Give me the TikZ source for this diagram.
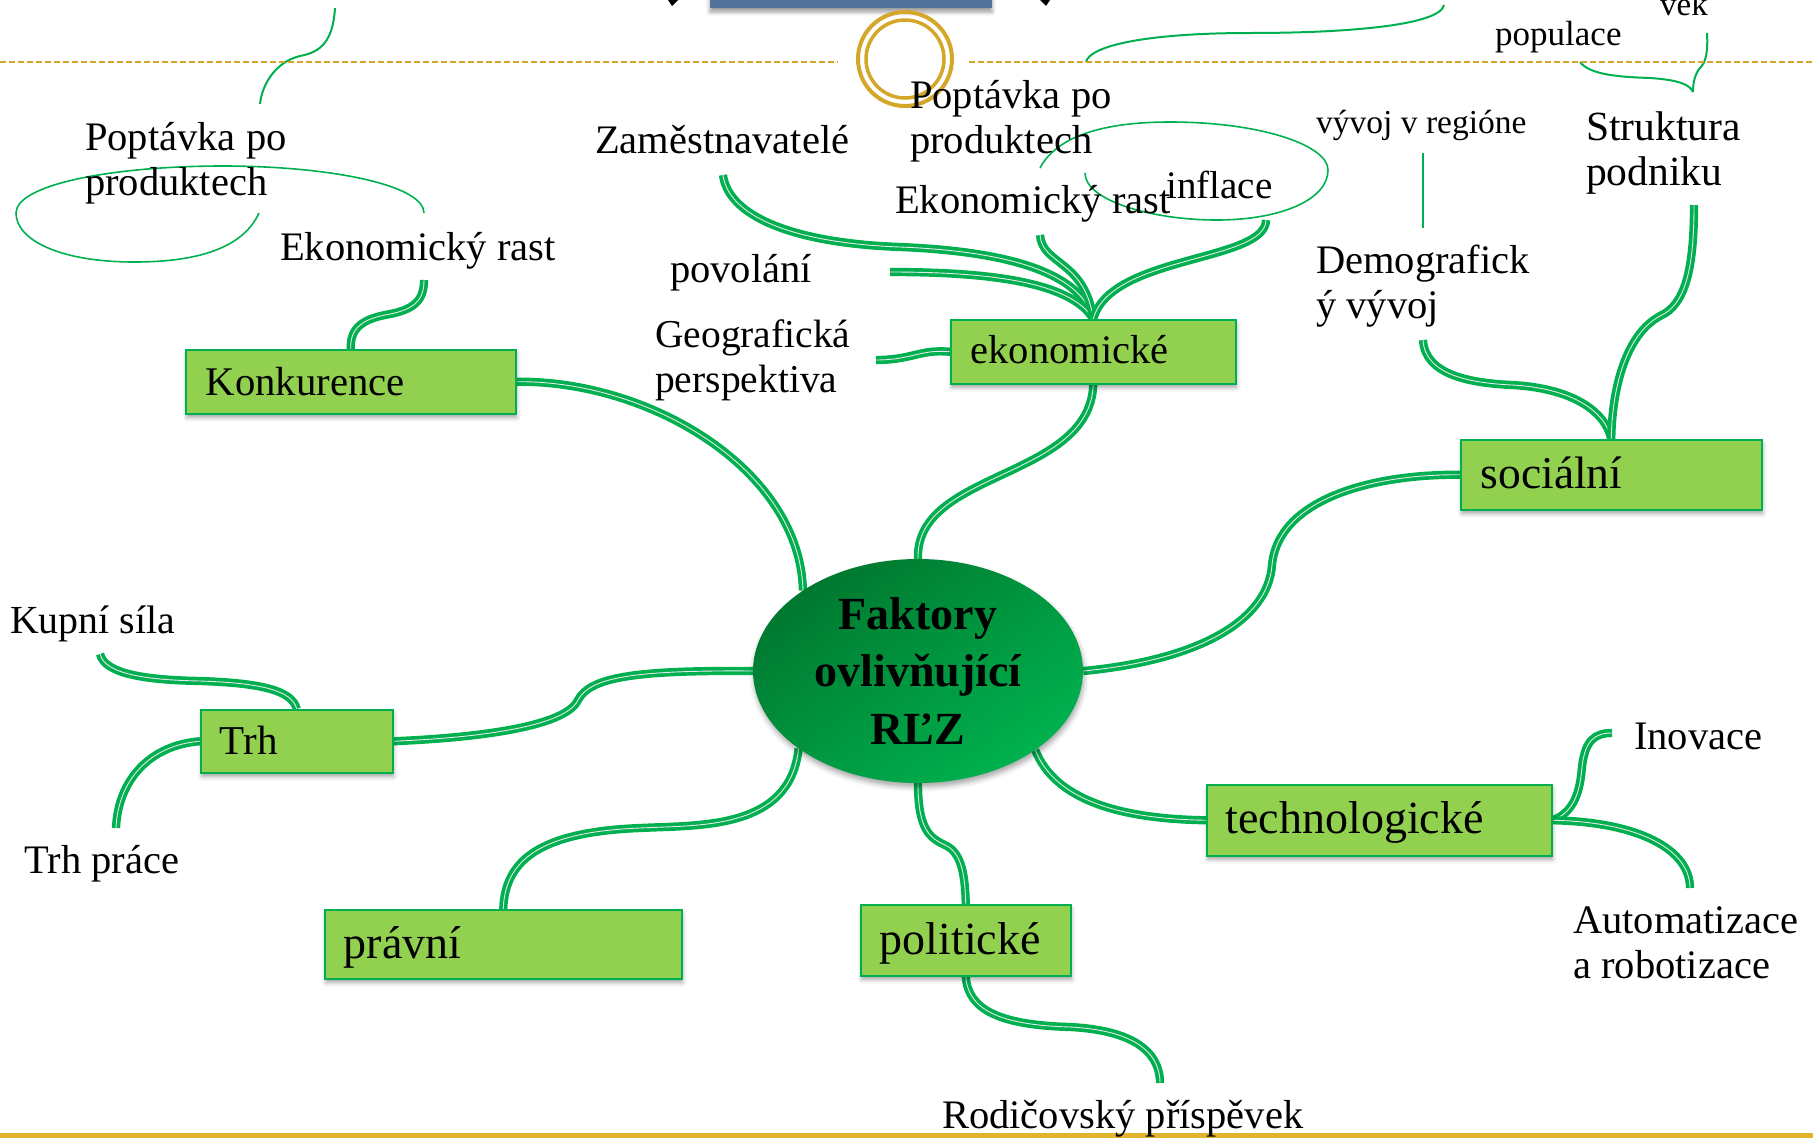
\documentclass[tikz,border=0pt]{standalone}
\usepackage{fontspec}
\setmainfont{Liberation Serif}
\usetikzlibrary{shapes.geometric,shadows.blur,backgrounds}

\definecolor{brgreen}{HTML}{00B050}
\definecolor{boxfill}{HTML}{92D050}
\definecolor{hubdark}{HTML}{00782F}
\definecolor{hublight}{HTML}{00B24F}
\definecolor{gold}{HTML}{D4A62A}
\definecolor{goldline}{HTML}{E0B52B}
\definecolor{slate}{HTML}{54739C}
\definecolor{stripe}{HTML}{E6E6E6}

\newcommand\fs[1]{\fontsize{#1}{1.2\dimexpr #1pt\relax}\selectfont}

\begin{document}
\begin{tikzpicture}[x=1pt,y=-1pt,
  lbl/.style={anchor=base west, inner sep=0pt, font=\fs{40.5}},
  box/.style={draw=brgreen, fill=boxfill, line width=1.5pt, anchor=north west,
    inner ysep=0pt, inner xsep=20pt, align=left,
    blur shadow={shadow xshift=1pt, shadow yshift=-4pt, shadow blur radius=4pt, shadow opacity=35}},
  branch/.style={draw=brgreen, line width=3.7pt, double=stripe, double distance=0.9pt},
  thin/.style={draw=brgreen, line width=2pt},
]
\useasboundingbox (0,0) rectangle (1813,1138);
\clip (0,0) rectangle (1813,1138);

% slide decoration: title bar, ring, dashed and solid rules
\fill[slate, blur shadow={shadow xshift=0pt, shadow yshift=-4pt, shadow blur radius=4pt, shadow opacity=40}] (710,-10) rectangle (992,8);
\fill (668,0) -- (678,0) -- (672,6) -- cycle;
\fill (1040,0) -- (1050,0) -- (1046,6) -- cycle;
\draw[gold, line width=2.5pt, dash pattern=on 6pt off 3pt] (0,62) -- (838,62);
\draw[gold, line width=2.5pt, dash pattern=on 6pt off 3pt] (969,62) -- (1813,62);
\draw[gold, line width=4pt] (905,59) circle[radius=47];
\draw[gold, line width=3.5pt] (905,59) circle[radius=39];
\draw[goldline, line width=5pt] (0,1135) -- (1813,1135);

% central hub
\node[ellipse, minimum width=330pt, minimum height=224pt, inner sep=0pt,
  top color=hubdark, bottom color=hublight, shading angle=35,
  align=center, font=\bfseries\fontsize{46}{57.5}\selectfont,
  blur shadow={shadow xshift=1pt, shadow yshift=-4pt, shadow blur radius=5pt, shadow opacity=35}]
  (hub) at (918,671) {Faktory\\ovlivňující\\RĽZ};

% factor boxes
\node[box, text width=290pt, text height=46pt, text depth=18pt, font=\fs{40.7}] (konk) at (185,349) {Konkurence};
\node[box, text width=245pt, text height=44pt, text depth=20pt, font=\fs{40.5}] (ekon) at (950,319) {ekonomické};
\node[box, text width=261pt, text height=49pt, text depth=21pt, font=\fs{45.5}] (soc) at (1460,439) {sociální};
\node[box, text width=154pt, text height=45pt, text depth=18pt, inner xsep=19pt, font=\fs{41}] (trh) at (200,709) {Trh};
\node[box, text width=319pt, text height=49pt, text depth=20pt, inner xsep=19pt, font=\fs{46}] (prav) at (324,909) {právní};
\node[box, text width=172pt, text height=50pt, text depth=21pt, inner xsep=19pt, font=\fs{46}] (polit) at (860,904) {politické};
\node[box, text width=307pt, text height=49pt, text depth=22pt, inner xsep=19pt, font=\fs{46}] (tech) at (1206,784) {technologické};

% labels
\node[lbl] (pop1a) at (85,150) {Poptávka po};
\node[lbl] (pop1b) at (85,195) {produktech};
\node[lbl] (rast1) at (280,260) {Ekonomický rast};
\node[lbl] (zam) at (595,153) {Zaměstnavatelé};
\node[lbl] (pop2a) at (910,108) {Poptávka po};
\node[lbl] (pop2b) at (910,153) {produktech};
\node[lbl] (rast2) at (895,213) {Ekonomický rast};
\node[lbl, font=\fs{39}] (infl) at (1166,198) {inflace};
\node[lbl] (povol) at (670,282) {povolání};
\node[lbl, font=\fs{39.5}] (geo1) at (655,347) {Geografická};
\node[lbl, font=\fs{39.5}] (geo2) at (655,392) {perspektiva};
\node[lbl, font=\fs{33.5}] (vyvoj) at (1316,133) {vývoj v regióne};
\node[lbl] (demo1) at (1316,273) {Demografick};
\node[lbl] (demo2) at (1316,318) {ý vývoj};
\node[lbl, font=\fs{41.5}] (strk1) at (1586,140) {Struktura};
\node[lbl, font=\fs{41.5}] (strk2) at (1586,185) {podniku};
\node[lbl, font=\fs{35}] (popul) at (1495,45) {populace};
\node[lbl, font=\fs{33}] (vek) at (1660,15) {věk};
\node[lbl, font=\fs{39.8}] (kupni) at (10,633) {Kupní síla};
\node[lbl] (trhpr) at (24,873) {Trh práce};
\node[lbl] (inov) at (1634,749) {Inovace};
\node[lbl] (auto1) at (1573,933) {Automatizace};
\node[lbl] (auto2) at (1573,978) {a robotizace};
\node[lbl] (rodic) at (942,1128) {Rodičovský příspěvek};

% free ends of the branches next to their labels
\coordinate (e-rast1) at (424,280);
\coordinate (e-zam) at (723,175);
\coordinate (e-povol) at (890,272);
\coordinate (e-rast2) at (1040,235);
\coordinate (e-infl) at (1266,220);
\coordinate (e-geo) at (876,360);
\coordinate (e-demo) at (1423,340);
\coordinate (e-strk) at (1694,205);
\coordinate (e-kupni) at (100,654);
\coordinate (e-trhpr) at (116,828);
\coordinate (e-inov) at (1612,733);
\coordinate (e-auto) at (1690,888);
\coordinate (e-rodic) at (1160,1083);

% ends of the thin connectors
\coordinate (t1a) at (335,8);    \coordinate (t1b) at (260,104);
\coordinate (t2a) at (1444,5);   \coordinate (t2b) at (1086,62);
\coordinate (t3a) at (1580,62);  \coordinate (t3b) at (1707,33);
\coordinate (t3c) at (1693,92);
\coordinate (t4a) at (1423,153); \coordinate (t4b) at (1423,228);
\coordinate (l1a) at (259,213);  \coordinate (l1b) at (424,213);
\coordinate (l2a) at (1040,168); \coordinate (l2b) at (1085,173);

\begin{scope}[on background layer]
% main branches from the hub
\draw[branch] (hub.145) .. controls (800,470) and (650,380) .. (konk.east);
\draw[branch] (hub.north) .. controls (915,470) and (1090,480) .. (ekon.south);
\draw[branch] (hub.east) .. controls (1200,660) and (1268,620) .. (1272,565)
  .. controls (1278,500) and (1370,474) .. (soc.west);
\draw[branch] (hub.-34) .. controls (1055,800) and (1120,819) .. (tech.west);
\draw[branch] (hub.south) .. controls (918,830) and (930,838) .. (945,845)
  .. controls (960,852) and (965,870) .. (polit.north);
\draw[branch] (hub.213) .. controls (790,830) and (700,825) .. (640,828)
  .. controls (540,832) and (505,860) .. (prav.north);
\draw[branch] (hub.west) .. controls (630,670) and (590,678) .. (578,700)
  .. controls (565,728) and (470,738) .. (trh.east);

% sub-branches
\draw[branch] (konk.north) .. controls (350,330) and (360,320) .. (385,315)
  .. controls (415,310) and (424,300) .. (e-rast1);
\draw[branch] (e-zam) .. controls (728,215) and (790,243) .. (900,247)
  .. controls (1000,251) and (1080,270) .. (ekon.north);
\draw[branch] (e-povol) .. controls (980,272) and (1070,280) .. (ekon.north);
\draw[branch] (e-rast2) .. controls (1042,265) and (1085,260) .. (ekon.north);
\draw[branch] (e-infl) .. controls (1266,262) and (1110,255) .. (ekon.north);
\draw[branch] (ekon.west) .. controls (920,349) and (912,360) .. (e-geo);
\draw[branch] (soc.north) .. controls (1605,410) and (1570,388) .. (1512,385)
  .. controls (1470,383) and (1425,375) .. (e-demo);
\draw[branch] (soc.north) .. controls (1612,390) and (1625,335) .. (1660,316)
  .. controls (1685,305) and (1694,270) .. (e-strk);
\draw[branch] (trh.north) .. controls (292,690) and (260,683) .. (200,681)
  .. controls (150,680) and (105,675) .. (e-kupni);
\draw[branch] (trh.west) .. controls (150,745) and (118,780) .. (e-trhpr);
\draw[branch] (tech.east) .. controls (1575,812) and (1580,790) .. (1582,767)
  .. controls (1585,740) and (1595,733) .. (e-inov);
\draw[branch] (tech.east) .. controls (1640,822) and (1690,850) .. (e-auto);
\draw[branch] (polit.south) .. controls (968,1010) and (1000,1025) .. (1070,1027)
  .. controls (1130,1030) and (1160,1050) .. (e-rodic);

% thin connectors
\draw[thin] (t1a) .. controls (333,40) and (322,52) .. (300,56)
  .. controls (275,62) and (262,85) .. (t1b);
\draw[thin] (t2a) .. controls (1440,25) and (1350,33) .. (1250,33)
  .. controls (1150,33) and (1090,45) .. (t2b);
\draw[thin] (t3a) .. controls (1590,75) and (1620,77) .. (1650,78)
  .. controls (1680,80) and (1690,85) .. (t3c);
\draw[thin] (t3b) .. controls (1708,52) and (1706,62) .. (1700,68)
  .. controls (1694,75) and (1693,85) .. (t3c);
\draw[thin] (t4a) -- (t4b);
\draw[thin, line width=1.6pt] (l1a) .. controls (240,255) and (180,262) .. (134,262)
  .. controls (60,262) and (16,240) .. (16,213)
  .. controls (16,185) and (110,166) .. (223,166)
  .. controls (330,166) and (424,185) .. (l1b);
\draw[thin, line width=1.6pt] (l2a) .. controls (1060,130) and (1120,122) .. (1170,122)
  .. controls (1260,122) and (1328,145) .. (1328,170)
  .. controls (1328,200) and (1280,220) .. (1217,220)
  .. controls (1150,220) and (1085,200) .. (l2b);
\end{scope}
\end{tikzpicture}
\end{document}
